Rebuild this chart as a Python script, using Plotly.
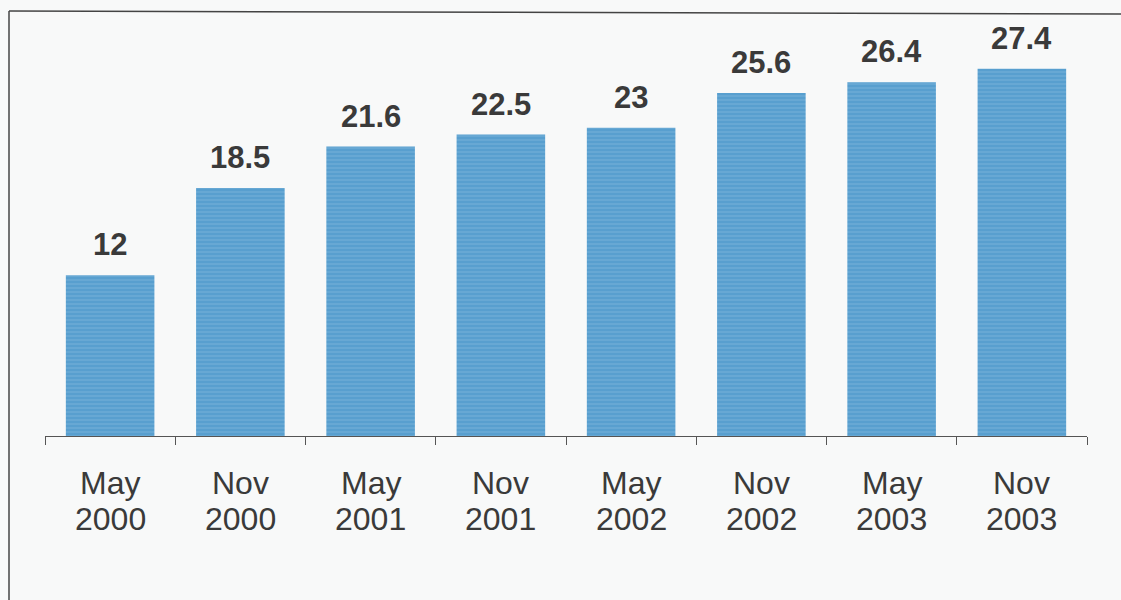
import plotly.graph_objects as go

# Survey periods and measured values
months = ["May", "Nov", "May", "Nov", "May", "Nov", "May", "Nov"]
years = ["2000", "2000", "2001", "2001", "2002", "2002", "2003", "2003"]
values = [12, 18.5, 21.6, 22.5, 23, 25.6, 26.4, 27.4]
value_labels = ["12", "18.5", "21.6", "22.5", "23", "25.6", "26.4", "27.4"]

categories = [f"{m} {y}" for m, y in zip(months, years)]

W, H = 1121, 600
ML, MR, MT, MB = 45, 34, 34, 164
plot_w = W - ML - MR
plot_h = H - MT - MB

FONT = "Liberation Sans, Arial, sans-serif"
TEXT_COLOR = "#3a3a3a"


def px_to_paper_x(px):
    return (px - ML) / plot_w


def px_to_paper_y(py):
    return (H - MB - py) / plot_h


fig = go.Figure()
fig.add_trace(go.Bar(
    x=categories,
    y=values,
    marker=dict(
        color="#589fcf",
        line=dict(width=0),
        pattern=dict(shape="-", fgcolor="#92c4e3", size=4, solidity=0.25,
                     fillmode="overlay"),
    ),
    hoverinfo="skip",
))

# value labels above each bar
for c, v, t in zip(categories, values, value_labels):
    fig.add_annotation(
        x=c, y=v, text=t, showarrow=False,
        xanchor="center", yanchor="bottom", yshift=11,
        font=dict(family=FONT, size=31, color=TEXT_COLOR, weight="bold"),
    )

# two-line category labels under the axis (month, then year)
for c, m, y in zip(categories, months, years):
    fig.add_annotation(
        x=c, xref="x", y=px_to_paper_y(483), yref="paper", text=m,
        showarrow=False, xanchor="center", yanchor="middle",
        font=dict(family=FONT, size=32, color=TEXT_COLOR),
    )
    fig.add_annotation(
        x=c, xref="x", y=px_to_paper_y(519), yref="paper", text=y,
        showarrow=False, xanchor="center", yanchor="middle",
        font=dict(family=FONT, size=32, color=TEXT_COLOR),
    )

# frame lines on the left and top
fig.add_shape(type="line", xref="paper", yref="paper",
              x0=px_to_paper_x(9), y0=px_to_paper_y(11),
              x1=px_to_paper_x(9), y1=px_to_paper_y(600),
              line=dict(color="#444444", width=1.5))
fig.add_shape(type="line", xref="paper", yref="paper",
              x0=px_to_paper_x(9), y0=px_to_paper_y(11),
              x1=px_to_paper_x(1121), y1=px_to_paper_y(14),
              line=dict(color="#444444", width=1.5))

fig.update_layout(
    width=W, height=H,
    margin=dict(l=ML, r=MR, t=MT, b=MB),
    paper_bgcolor="#f8f9f9",
    plot_bgcolor="#f8f9f9",
    bargap=0.32,
    showlegend=False,
    xaxis=dict(
        type="category",
        tickson="boundaries",
        ticks="outside",
        ticklen=8,
        tickcolor="#555555",
        tickwidth=1.2,
        showline=True,
        linecolor="#555555",
        linewidth=1.2,
        showgrid=False,
        zeroline=False,
        showticklabels=False,
    ),
    yaxis=dict(
        range=[0, 30],
        visible=False,
        showgrid=False,
        zeroline=False,
    ),
)

fig.write_html("out.html")
